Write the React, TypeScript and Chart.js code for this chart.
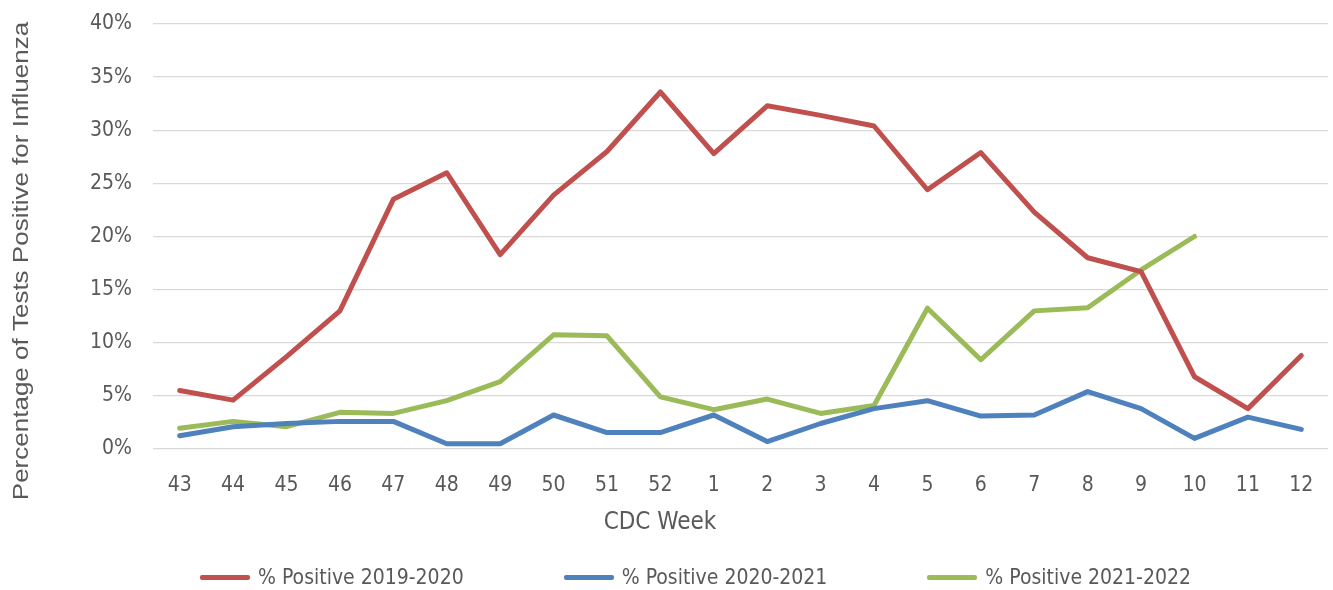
import React, { useEffect, useRef } from "react";
import { Chart, registerables } from "chart.js";

Chart.register(...registerables);

const weeks = ["43", "44", "45", "46", "47", "48", "49", "50", "51", "52", "1", "2", "3", "4", "5", "6", "7", "8", "9", "10", "11", "12"];
const pos2019 = [5.5, 4.6, 8.7, 13.0, 23.5, 26.0, 18.3, 23.9, 28.0, 33.6, 27.8, 32.3, 31.4, 30.4, 24.4, 27.9, 22.3, 18.0, 16.7, 6.8, 3.8, 8.8];
const pos2020 = [1.25, 2.1, 2.4, 2.6, 2.6, 0.5, 0.5, 3.2, 1.55, 1.55, 3.2, 0.7, 2.4, 3.8, 4.55, 3.1, 3.2, 5.4, 3.8, 1.0, 3.0, 1.85];
const pos2021 = [1.95, 2.6, 2.1, 3.45, 3.35, 4.55, 6.35, 10.75, 10.65, 4.9, 3.7, 4.7, 3.35, 4.1, 13.25, 8.4, 13.0, 13.3, 16.85, 20.0, null, null];
const seriesLabels = ["% Positive 2019-2020", "% Positive 2020-2021", "% Positive 2021-2022"];
const seriesColors = ["#C0504D", "#4F81BD", "#9BBB59"];
const yTitle = "Percentage of Tests Positive for Influenza";
const xTitle = "CDC Week";

const TEXT = "#595959";
const NARROW = "'Liberation Sans Narrow', 'DejaVu Sans Condensed', sans-serif";

const titlesPlugin = {
  id: "titlesPlugin",
  afterDraw(chart: any) {
    const ctx = chart.ctx;
    ctx.save();
    ctx.translate(22, 261);
    ctx.scale(0.85, 1);
    ctx.rotate(-Math.PI / 2);
    ctx.font = "26px 'Liberation Sans', Arial, sans-serif";
    ctx.fillStyle = TEXT;
    ctx.textAlign = "center";
    ctx.textBaseline = "middle";
    ctx.fillText(yTitle, 0, 0);
    ctx.restore();

    ctx.save();
    ctx.font = "24px " + NARROW;
    ctx.fillStyle = TEXT;
    ctx.textAlign = "center";
    ctx.textBaseline = "middle";
    ctx.fillText(xTitle, 660, 523);
    ctx.restore();
  },
};

export default function App() {
  const ref = useRef<HTMLCanvasElement>(null);
  useEffect(() => {
    if (!ref.current) return;
    const data = [pos2019, pos2020, pos2021];
    const chart = new Chart(ref.current, {
      type: "line",
      data: {
        labels: weeks,
        datasets: data.map((d, i) => ({
          label: seriesLabels[i],
          data: d,
          borderColor: seriesColors[i],
          backgroundColor: seriesColors[i],
          borderWidth: 5,
          pointRadius: 0,
          tension: 0,
          borderJoinStyle: "round" as const,
          borderCapStyle: "round" as const,
          spanGaps: false,
        })),
      },
      options: {
        animation: false,
        responsive: false,
        maintainAspectRatio: false,
        layout: { padding: { left: 0, right: 5, top: 24, bottom: 0 } },
        plugins: {
          legend: { display: false },
          tooltip: { enabled: false },
        },
        scales: {
          x: {
            offset: true,
            grid: { display: false, drawTicks: false },
            border: { display: false },
            ticks: {
              color: TEXT,
              font: { family: NARROW, size: 21 },
              padding: 24,
              maxRotation: 0,
              autoSkip: false,
            },
            title: { display: false, text: xTitle },
            afterFit(scale: any) {
              scale.height = 141;
              scale.paddingLeft = 0;
              scale.paddingRight = 0;
            },
          },
          y: {
            min: 0,
            max: 40,
            grid: { color: "#D9D9D9", lineWidth: 1.3, drawTicks: false },
            border: { display: false },
            ticks: {
              stepSize: 5,
              color: TEXT,
              font: { family: NARROW, size: 21 },
              padding: 21,
              callback: (v: any) => v + "%",
            },
            title: { display: false, text: yTitle },
            afterFit(scale: any) {
              scale.width = 153;
              scale.paddingTop = 0;
              scale.paddingBottom = 0;
            },
          },
        },
      },
      plugins: [titlesPlugin],
    });
    return () => chart.destroy();
  }, []);

  return (
    <div style={{ position: "fixed", left: 0, top: 0, width: 1333, height: 590, background: "#fff" }}>
      <canvas ref={ref} width={1333} height={590} style={{ display: "block" }} />
      <div
        style={{
          position: "absolute",
          left: 200,
          top: 560,
          height: 34,
          display: "flex",
          alignItems: "center",
          gap: 100,
          fontFamily: NARROW,
          fontSize: 21,
          color: TEXT,
          whiteSpace: "nowrap",
        }}
      >
        {seriesLabels.map((l, i) => (
          <div key={l} style={{ display: "flex", alignItems: "center" }}>
            <span style={{ display: "inline-block", width: 50, height: 5, background: seriesColors[i], marginRight: 8, borderRadius: 2 }} />
            <span>{l}</span>
          </div>
        ))}
      </div>
    </div>
  );
}
